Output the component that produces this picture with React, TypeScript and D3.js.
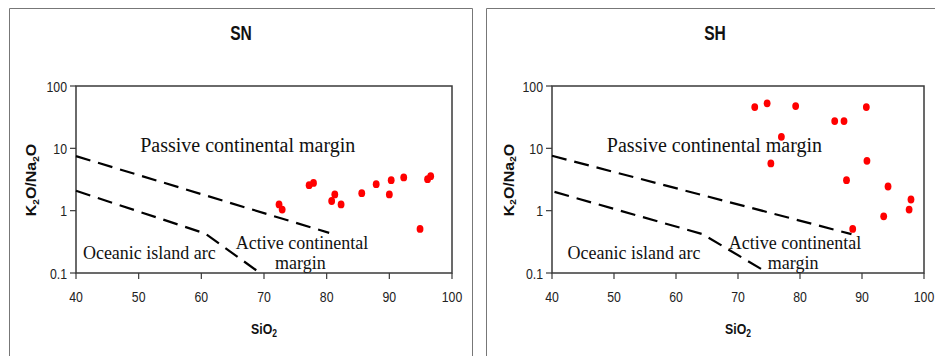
import React from "react";
import * as d3 from "d3";

// tick values
const xTicks = [40, 50, 60, 70, 80, 90, 100];
const yTicks = [100, 10, 1, 0.1];
const yTickLabels = ["100", "10", "1", "0.1"];

// SN samples
const snSiO2 = [72.4, 72.9, 77.2, 77.9, 80.8, 81.3, 82.3, 85.6, 87.9, 90.0, 90.3, 92.3, 94.9, 96.1, 96.6];
const snRatio = [1.26, 1.04, 2.56, 2.79, 1.43, 1.82, 1.26, 1.91, 2.66, 1.82, 3.08, 3.41, 0.51, 3.2, 3.58];

// SH samples
const shSiO2 = [72.7, 74.7, 79.3, 77.0, 75.3, 85.6, 87.1, 90.7, 90.8, 87.5, 94.2, 88.5, 93.5, 97.6, 97.9];
const shRatio = [45.9, 52.7, 47.7, 15.3, 5.72, 27.4, 27.4, 45.9, 6.3, 3.08, 2.44, 0.51, 0.81, 1.04, 1.51];

// field boundaries (SiO2, K2O/Na2O)
const snUpperLine: [number, number][] = [[40, 7.5], [80.4, 0.44]];
const snLowerLine: [number, number][] = [[40, 2.09], [60.6, 0.43], [68.8, 0.11]];
const shUpperLine: [number, number][] = [[40, 7.6], [88.3, 0.42]];
const shLowerLine: [number, number][] = [[40.4, 2.0], [64.3, 0.42], [73.8, 0.115]];

const sans = "'Liberation Sans', Arial, sans-serif";
const serif = "'Liberation Serif', 'Times New Roman', serif";
const sq = 0.82; // the picture's sans text is narrow

type PanelProps = {
  title: string;
  frameLeft: number;
  frameRight: number;
  titleX: number;
  left: number;
  right: number;
  yTitleX: number;
  xs: number[];
  ys: number[];
  upper: [number, number][];
  lower: [number, number][];
  passiveAt: [number, number];
  oceanicAt: [number, number];
  activeAt: [number, number];
  marginAt: [number, number];
};

function Panel(p: PanelProps) {
  const top = 86;
  const bottom = 273;
  const x = d3.scaleLinear().domain([40, 100]).range([p.left, p.right]);
  const y = d3.scaleLog().domain([0.1, 100]).range([bottom, top]);
  const line = d3
    .line<[number, number]>()
    .x((d) => x(d[0]))
    .y((d) => y(d[1]));
  const axisColor = "#3a3a3a";

  return (
    <g>
      {/* outer frame */}
      <path
        d={`M${p.frameLeft},360 V8.5 H${p.frameRight} V360`}
        fill="none"
        stroke="#777"
        strokeWidth={1}
      />
      <g transform={`translate(${p.titleX},40) scale(0.8,1)`}>
        <text textAnchor="middle" fontFamily={sans} fontWeight="bold" fontSize={19.5} fill="#111">
          {p.title}
        </text>
      </g>

      {/* plot box */}
      <rect
        x={p.left}
        y={top}
        width={p.right - p.left}
        height={bottom - top}
        fill="white"
        stroke={axisColor}
        strokeWidth={1.5}
      />

      {/* y axis */}
      {yTicks.map((t, i) => (
        <g key={"y" + t}>
          <line x1={p.left - 6} x2={p.left} y1={y(t)} y2={y(t)} stroke={axisColor} strokeWidth={1.2} />
          <g transform={`translate(${p.left - 9},${y(t) + 5.5}) scale(${sq},1)`}>
            <text textAnchor="end" fontFamily={sans} fontSize={15} fill="#222">
              {yTickLabels[i]}
            </text>
          </g>
        </g>
      ))}

      {/* x axis */}
      {xTicks.map((t) => (
        <g key={"x" + t}>
          <line x1={x(t)} x2={x(t)} y1={bottom} y2={bottom + 6} stroke={axisColor} strokeWidth={1.2} />
          <g transform={`translate(${x(t)},302) scale(${sq},1)`}>
            <text textAnchor="middle" fontFamily={sans} fontSize={15} fill="#222">
              {t}
            </text>
          </g>
        </g>
      ))}

      {/* axis titles */}
      <g transform={`translate(${(p.left + p.right) / 2},334) scale(0.85,1)`}>
        <text textAnchor="middle" fontFamily={sans} fontWeight="bold" fontSize={14.5} fill="#111">
          SiO
          <tspan fontSize={10} dy={3}>2</tspan>
        </text>
      </g>
      <g transform={`translate(${p.yTitleX},180) scale(0.9,1) rotate(-90)`}>
        <text textAnchor="middle" fontFamily={sans} fontWeight="bold" fontSize={16} fill="#111">
          K<tspan fontSize={10} dy={3}>2</tspan>
          <tspan dy={-3}>O/Na</tspan>
          <tspan fontSize={10} dy={3}>2</tspan>
          <tspan dy={-3}>O</tspan>
        </text>
      </g>

      {/* field boundaries */}
      {[p.upper, p.lower].map((l, i) => (
        <path
          key={"b" + i}
          d={line(l) ?? ""}
          fill="none"
          stroke="#000"
          strokeWidth={2.2}
          strokeDasharray="15,8"
        />
      ))}

      {/* field labels */}
      <g fontFamily={serif} fill="#111">
        <text x={x(p.passiveAt[0])} y={y(p.passiveAt[1])} textAnchor="middle" fontSize={20}>
          Passive continental margin
        </text>
        <text x={x(p.oceanicAt[0])} y={y(p.oceanicAt[1])} fontSize={18}>
          Oceanic island arc
        </text>
        <text x={x(p.activeAt[0])} y={y(p.activeAt[1])} fontSize={18}>
          Active continental
        </text>
        <text x={x(p.marginAt[0])} y={y(p.marginAt[1])} textAnchor="middle" fontSize={18}>
          margin
        </text>
      </g>

      {/* samples */}
      {p.xs.map((v, i) => (
        <ellipse key={"p" + i} cx={x(v)} cy={y(p.ys[i])} rx={3.4} ry={3.9} fill="#f00" />
      ))}
    </g>
  );
}

export default function App() {
  return (
    <svg
      width={935}
      height={356}
      style={{ position: "absolute", left: 0, top: 0, display: "block", background: "white" }}
    >
      <Panel
        title="SN"
        frameLeft={9.5}
        frameRight={472.5}
        titleX={241}
        left={76}
        right={452}
        yTitleX={36}
        xs={snSiO2}
        ys={snRatio}
        upper={snUpperLine}
        lower={snLowerLine}
        passiveAt={[67.4, 8.7]}
        oceanicAt={[41.1, 0.17]}
        activeAt={[65.5, 0.246]}
        marginAt={[75.8, 0.117]}
      />
      <Panel
        title="SH"
        frameLeft={486.5}
        frameRight={940}
        titleX={715}
        left={552}
        right={924}
        yTitleX={513.5}
        xs={shSiO2}
        ys={shRatio}
        upper={shUpperLine}
        lower={shLowerLine}
        passiveAt={[66.2, 8.7]}
        oceanicAt={[42.5, 0.17]}
        activeAt={[68.5, 0.24]}
        marginAt={[78.9, 0.117]}
      />
    </svg>
  );
}
